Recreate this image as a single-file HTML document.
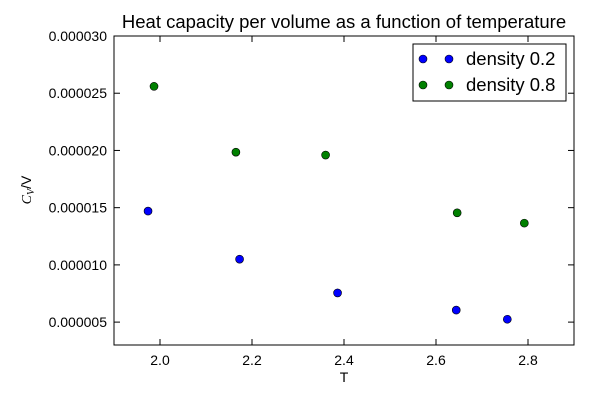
<!DOCTYPE html>
<html><head><meta charset="utf-8"><style>
html,body{margin:0;padding:0;background:#fff;}
svg{display:block;font-family:"Liberation Sans",sans-serif;}
</style></head><body>
<svg id="chart" width="600" height="400" viewBox="0 0 600 400" xmlns="http://www.w3.org/2000/svg">
<rect width="600" height="400" fill="#fff"/>
<text x="344" y="28" text-anchor="middle" font-size="18.5">Heat capacity per volume as a function of temperature</text>
<g id="axes"></g>
<g id="marks"></g>
<rect x="114" y="36" width="460" height="309" fill="none" stroke="#000" stroke-width="1"/>
<text x="344" y="382" text-anchor="middle" font-size="14">T</text>
<text transform="translate(31,190) rotate(-90)" text-anchor="middle" font-size="14"><tspan font-family="Liberation Serif" font-style="italic">C</tspan><tspan font-family="Liberation Serif" font-style="italic" font-size="10" dy="3">V</tspan><tspan dy="-3">/V</tspan></text>
<g>
<rect x="413" y="44" width="153" height="57" fill="#fff" stroke="#000" stroke-width="1"/>
<circle cx="423" cy="59" r="4" fill="#0000ff" stroke="#000" stroke-width="0.6"/>
<circle cx="449" cy="59" r="4" fill="#0000ff" stroke="#000" stroke-width="0.6"/>
<text x="466" y="65" font-size="18.5">density 0.2</text>
<circle cx="423" cy="85" r="4" fill="#008000" stroke="#000" stroke-width="0.6"/>
<circle cx="449" cy="85" r="4" fill="#008000" stroke="#000" stroke-width="0.6"/>
<text x="466" y="91" font-size="18.5">density 0.8</text>
</g>
</svg>
<script>
const xTicks = [2.0, 2.2, 2.4, 2.6, 2.8];
const xTickLabels = ["2.0", "2.2", "2.4", "2.6", "2.8"];
const yTicks = [5e-6, 10e-6, 15e-6, 20e-6, 25e-6, 30e-6];
const yTickLabels = ["0.000005", "0.000010", "0.000015", "0.000020", "0.000025", "0.000030"];
const tLow = [1.974, 2.173, 2.386, 2.644, 2.755];
const cvLow = [14.7e-6, 10.5e-6, 7.55e-6, 6.05e-6, 5.25e-6];
const tHigh = [1.987, 2.165, 2.36, 2.646, 2.792];
const cvHigh = [25.6e-6, 19.85e-6, 19.6e-6, 14.55e-6, 13.65e-6];

const NS = "http://www.w3.org/2000/svg";
const X0 = 114, X1 = 574, Y0 = 345, Y1 = 36;
const xMin = 1.9, xMax = 2.9, yMin = 3e-6, yMax = 30e-6;
function sx(v){ return X0 + (v - xMin) / (xMax - xMin) * (X1 - X0); }
function sy(v){ return Y0 - (v - yMin) / (yMax - yMin) * (Y0 - Y1); }
function mk(tag, attrs){ const e = document.createElementNS(NS, tag); for (const k in attrs) e.setAttribute(k, attrs[k]); return e; }
const axes = document.getElementById("axes");
xTicks.forEach((v, i) => {
  const x = sx(v);
  const t1 = mk("line", {x1:x, x2:x, y1:Y0, y2:Y0-6, stroke:"#000"});
  
  
  axes.appendChild(t1);
  const t2 = mk("line", {x1:x, x2:x, y1:Y1, y2:Y1+6, stroke:"#000"});
  
  
  axes.appendChild(t2);
  const l = mk("text", {x:x, y:Y0+20, "text-anchor":"middle", "font-size":"14"});
  l.textContent = xTickLabels[i];
  
  
  axes.appendChild(l);
});
yTicks.forEach((v, i) => {
  const y = sy(v);
  const t1 = mk("line", {x1:X0, x2:X0+6, y1:y, y2:y, stroke:"#000"});
  
  
  axes.appendChild(t1);
  const t2 = mk("line", {x1:X1, x2:X1-6, y1:y, y2:y, stroke:"#000"});
  
  
  axes.appendChild(t2);
  const l = mk("text", {x:X0-7, y:y+5, "text-anchor":"end", "font-size":"14"});
  l.textContent = yTickLabels[i];
  
  
  axes.appendChild(l);
});
const marks = document.getElementById("marks");
function series(xs, ys, color, name){
  xs.forEach((v, i) => {
    const c = mk("circle", {cx:sx(v), cy:sy(ys[i]), r:4, fill:color, stroke:"#000", "stroke-width":0.6});
    
    
    marks.appendChild(c);
  });
}
series(tLow, cvLow, "#0000ff", "point-density-0.2");
series(tHigh, cvHigh, "#008000", "point-density-0.8");
</script>
</body></html>
